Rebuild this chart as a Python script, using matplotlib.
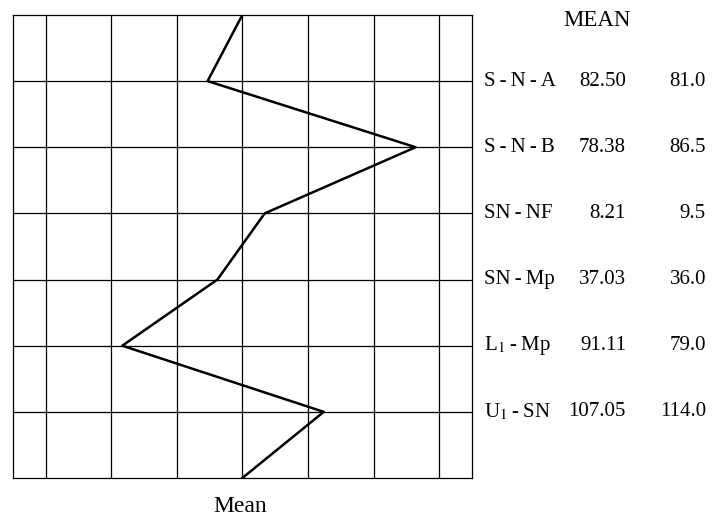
import matplotlib.pyplot as plt
import matplotlib.transforms as mtransforms

# Данные
labels = ['S-N-A', 'S-N-B', 'SN-NF', 'SN-Mp', 'L$_1$-Mp', 'U$_1$-SN']
mean_vals = ['82.50', '78.38', '8.21', '37.03', '91.11', '107.05']
case_vals = ['81.0', '86.5', '9.5', '36.0', '79.0', '114.0']
# отклонение от среднего (в SD)
deviation = [-0.53, 2.64, 0.34, -0.38, -1.83, 1.24]
sd_ticks = [-3, -2, -1, 0, 1, 2, 3]

plt.rcParams['font.family'] = ['Liberation Serif', 'DejaVu Serif']
plt.rcParams['mathtext.fontset'] = 'stix'

fig = plt.figure(figsize=(7.18, 5.18), dpi=100)
ax = fig.add_axes([0.0177, 0.0772, 0.6397, 0.894])

rows = list(range(1, len(labels) + 1))
x_line = [0] + deviation + [0]
y_line = [0] + rows + [len(labels) + 1]
ax.plot(x_line, y_line, color='black', lw=1.8)

ax.set_xlim(-3.5, 3.5)
ax.set_ylim(len(labels) + 1, 0)
ax.set_xticks(sd_ticks)
ax.set_yticks(rows)
ax.grid(True, color='black', lw=0.9)
ax.tick_params(length=0, labelbottom=False, labelleft=False)
for s in ax.spines.values():
    s.set_linewidth(0.9)

# Таблица справа
trans = mtransforms.blended_transform_factory(fig.transFigure, ax.transData)
for r, lab, m, c in zip(rows, labels, mean_vals, case_vals):
    ax.text(484 / 718, r, lab.replace('-', '\u2009-\u2009'), transform=trans,
            ha='left', va='center', fontsize=15, clip_on=False)
    ax.text(626 / 718, r, m, transform=trans, ha='right', va='center',
            fontsize=15, clip_on=False)
    ax.text(706 / 718, r, c, transform=trans, ha='right', va='center',
            fontsize=15, clip_on=False)

fig.text(597 / 718, 1 - 20 / 518, 'MEAN', ha='center', va='center', fontsize=16.5)
fig.text(240 / 718, 1 - 507 / 518, 'Mean', ha='center', va='center', fontsize=17)

fig.savefig('out.png', dpi=100)
